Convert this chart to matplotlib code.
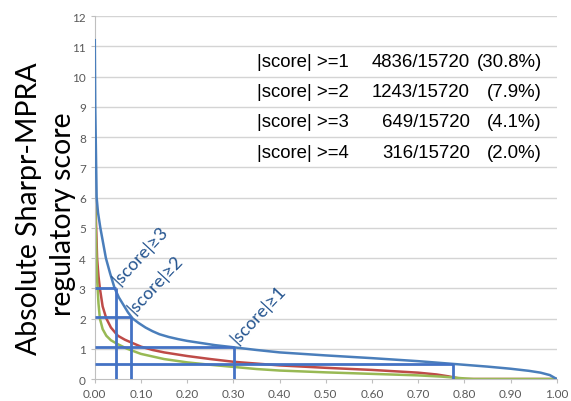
import numpy as np
import matplotlib.pyplot as plt

# fraction of elements (x) vs absolute score (y)
blue_x = [0, 0.001, 0.002, 0.004, 0.007, 0.012, 0.018, 0.024, 0.033, 0.043, 0.052, 0.062,
          0.072, 0.082, 0.095, 0.11, 0.125, 0.14, 0.16, 0.18, 0.20, 0.23, 0.26, 0.30,
          0.35, 0.40, 0.50, 0.60, 0.70, 0.775, 0.85, 0.90, 0.94, 0.965, 0.985, 1.0]
blue_y = [11.2, 9.0, 8.0, 6.0, 5.5, 5.0, 4.5, 4.0, 3.5, 3.0, 2.7, 2.45,
          2.2, 2.0, 1.85, 1.7, 1.58, 1.48, 1.39, 1.32, 1.26, 1.19, 1.12, 1.05,
          0.96, 0.88, 0.78, 0.69, 0.59, 0.50, 0.41, 0.34, 0.27, 0.21, 0.13, 0.0]
red_x = [0, 0.002, 0.005, 0.008, 0.011, 0.017, 0.025, 0.035, 0.05, 0.065, 0.08, 0.10,
         0.125, 0.15, 0.20, 0.25, 0.30, 0.35, 0.40, 0.50, 0.60, 0.70, 0.74, 0.765,
         0.785, 0.80, 1.0]
red_y = [7.5, 5.5, 4.0, 3.4, 3.0, 2.4, 2.0, 1.7, 1.43, 1.3, 1.2, 1.07,
         0.96, 0.88, 0.76, 0.66, 0.57, 0.51, 0.45, 0.37, 0.30, 0.21, 0.15, 0.09,
         0.03, 0.0, 0.0]
green_x = [0, 0.002, 0.005, 0.008, 0.011, 0.017, 0.025, 0.035, 0.05, 0.07, 0.10, 0.15,
           0.20, 0.25, 0.30, 0.35, 0.40, 0.50, 0.60, 0.70, 0.75, 0.80, 0.82, 1.0]
green_y = [7.4, 5.0, 3.3, 2.5, 2.0, 1.65, 1.43, 1.28, 1.15, 1.0, 0.83, 0.66,
           0.55, 0.47, 0.40, 0.33, 0.28, 0.22, 0.17, 0.12, 0.08, 0.02, 0.0, 0.0]

# threshold boxes: (fraction, score)
box_x = [0.045, 0.079, 0.301, 0.776]
box_y = [3.02, 2.05, 1.06, 0.51]
box_labels = ['|score|≥3', '|score|≥2', '|score|≥1']

rows = ['|score| >=1', '|score| >=2', '|score| >=3', '|score| >=4']
counts = ['4836/15720', '1243/15720', '649/15720', '316/15720']
pcts = ['(30.8%)', '(7.9%)', '(4.1%)', '(2.0%)']
row_y = [10.5, 9.5, 8.5, 7.5]

fig = plt.figure(figsize=(5.71, 4.02), dpi=100)
ax = fig.add_axes([0.166, 0.0547, 0.809, 0.903])

for yv in range(1, 13):
    ax.axhline(yv, color='#d4d4d4', lw=1.0, zorder=0)

ax.plot(blue_x, blue_y, color='#4a7ebb', lw=1.8, zorder=3)
ax.plot(red_x, red_y, color='#be4b48', lw=1.8, zorder=2)
ax.plot(green_x, green_y, color='#98b954', lw=1.8, zorder=2)

bc = '#4472c4'
for bx, by in zip(box_x, box_y):
    ax.plot([0, bx], [by, by], color=bc, lw=2, zorder=4, solid_capstyle='butt')
    ax.plot([bx, bx], [0, by], color=bc, lw=2, zorder=4, solid_capstyle='butt')

tc = '#24548f'
for bx, by, lab in zip(box_x[:3], box_y[:3], box_labels):
    ax.text(bx + 0.012, by + 0.02, lab, rotation=47, rotation_mode='anchor',
            ha='left', va='bottom', fontsize=13, color=tc, family='Lato')

for yv, r, c, p in zip(row_y, rows, counts, pcts):
    ax.text(0.351, yv, r, ha='left', va='center', fontsize=13.4,
            family='Liberation Sans', color='black')
    ax.text(0.812, yv, c, ha='right', va='center', fontsize=13.4,
            family='Liberation Sans', color='black')
    ax.text(0.968, yv, p, ha='right', va='center', fontsize=13.4,
            family='Liberation Sans', color='black')

ax.set_xlim(0, 1)
ax.set_ylim(0, 12)
ax.set_xticks(np.arange(0, 1.01, 0.1))
ax.set_xticklabels(['%.2f' % v for v in np.arange(0, 1.01, 0.1)])
ax.set_yticks(range(0, 13))
for s in ['top', 'right']:
    ax.spines[s].set_visible(False)
for s in ['left', 'bottom']:
    ax.spines[s].set_color('#bfbfbf')
ax.tick_params(colors='#bfbfbf', length=3, width=0.8, labelcolor='#595959')
for lab in ax.get_xticklabels() + ax.get_yticklabels():
    lab.set_family('Lato')
    lab.set_fontsize(8.5)

# y label drawn as two lines
fig.text(0.050, 0.480, 'Absolute Sharpr-MPRA', rotation=90,
         ha='center', va='center', fontsize=20.5, family='Lato')
fig.text(0.111, 0.466, 'regulatory score', rotation=90,
         ha='center', va='center', fontsize=20.5, family='Lato')

fig.savefig('out.png', dpi=100)
